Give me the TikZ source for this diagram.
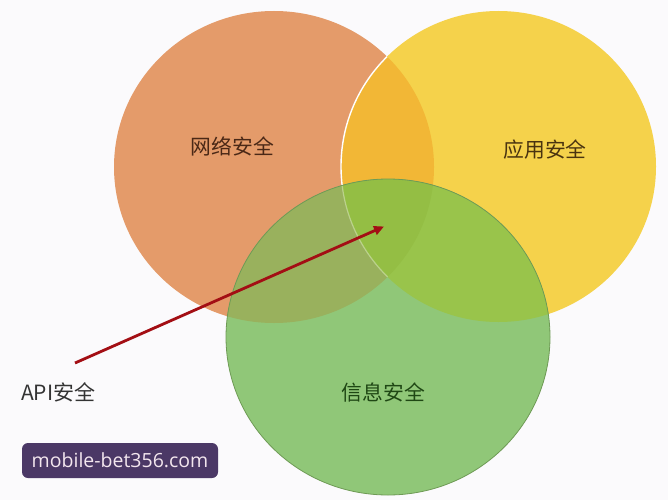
\documentclass[tikz,border=0pt]{standalone}
\usepackage{fontspec}
\newfontfamily\cjk{Noto Sans CJK SC}
\newfontfamily\wm{Open Sans}
\usetikzlibrary{arrows.meta}
\definecolor{bg}{HTML}{FBFAFC}
\definecolor{orangeC}{HTML}{E49B6A}
\definecolor{yellowC}{HTML}{F5D24B}
\definecolor{oyC}{HTML}{F2B736}
\definecolor{greenC}{HTML}{90C778}
\definecolor{goC}{HTML}{99B15D}
\definecolor{gyC}{HTML}{99C44B}
\definecolor{goyC}{HTML}{94BE44}
\definecolor{greenLine}{HTML}{6E9A55}
\definecolor{arrowC}{HTML}{A30E14}
\definecolor{wmbg}{HTML}{4B3866}
\definecolor{wmtext}{HTML}{F3E6EE}
\definecolor{netT}{HTML}{4A2816}
\definecolor{appT}{HTML}{4A3410}
\definecolor{infoT}{HTML}{1F4714}
\definecolor{apiT}{HTML}{333333}
\begin{document}
\begin{tikzpicture}[x=1pt,y=-1pt,
  label/.style={font=\cjk\fontsize{20.8}{24}\selectfont, inner sep=0pt},
  pointer/.style={draw=arrowC, line width=2.8pt, -{Triangle[length=10pt,width=9pt]}},
  watermark/.style={fill=wmbg, rounded corners=6pt, minimum width=196pt, minimum height=35pt,
    inner sep=0pt, text=wmtext, font=\wm\fontsize{19.5}{21}\selectfont}]
\fill[bg] (0,0) rectangle (668,500);
\useasboundingbox (0,0) rectangle (668,500);
\def\orangepath{(274,167) ellipse [x radius=160, y radius=156]}
\def\yellowpath{(498.5,166.5) ellipse [x radius=157.5, y radius=155.5]}
\def\greenpath{(388,337) ellipse [x radius=162, y radius=158]}
% orange and yellow
\fill[orangeC] \orangepath;
\fill[yellowC] \yellowpath;
\begin{scope}
  \clip \orangepath;
  \fill[oyC] \yellowpath;
  \draw[white, line width=1.4pt] \yellowpath;
\end{scope}
% green
\fill[greenC] \greenpath;
\begin{scope}
  \clip \greenpath;
  \fill[goC] \orangepath;
  \fill[gyC] \yellowpath;
  \begin{scope}
    \clip \orangepath;
    \fill[goyC] \yellowpath;
    \draw[white, opacity=0.35, line width=1.2pt] \yellowpath;
  \end{scope}
\end{scope}
\draw[greenLine, line width=0.8pt] \greenpath;
% labels
\node[label, text=netT] (net) at (232.5,146) {网络安全};
\node[label, text=appT] (app) at (545,150) {应用安全};
\node[label, text=infoT] (info) at (383.5,393) {信息安全};
\node[label, text=apiT, anchor=west, font=\cjk\fontsize{21}{24}\selectfont] (api) at (21,392) {API安全};
% arrow
\coordinate (apistart) at (75,363);
\coordinate (apiend) at (384,226.5);
\draw[pointer] (apistart) -- (apiend);
% watermark
\node[watermark] (wm) at (120,460.5) {mobile-bet356.com};
\end{tikzpicture}
\end{document}
